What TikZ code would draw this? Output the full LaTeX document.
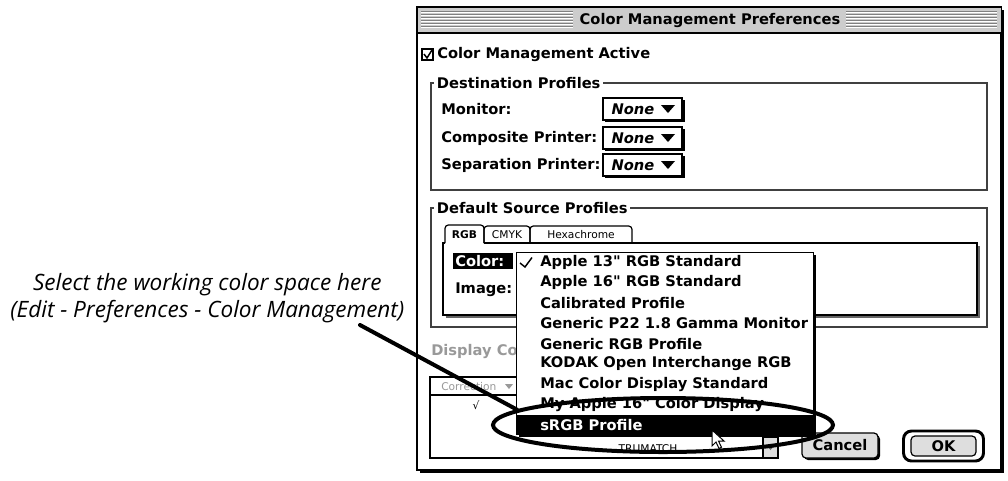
\documentclass[tikz,border=0pt]{standalone}
\usepackage{fontspec}
\setmainfont{DejaVu Sans}
\newfontfamily\uifont{DejaVu Sans}
\newfontfamily\notefont{Open Sans}
\newcommand\chic{\uifont\fontsize{11pt}{13pt}\selectfont\bfseries}
\newcommand\geneva{\uifont\fontsize{8pt}{9pt}\selectfont}
\usetikzlibrary{shapes.geometric}
\definecolor{titlegray}{gray}{0.80}
\definecolor{btngray}{gray}{0.87}
\definecolor{dimtext}{gray}{0.60}
\begin{document}
\begin{tikzpicture}[x=0.75pt,y=-0.75pt,
  ui/.style={font=\chic, inner sep=0pt},
  uiw/.style={ui, anchor=west},
  tiny/.style={font=\geneva, inner sep=0pt},
  edge/.style={draw=black, line width=0.9pt},
  grp/.style={draw=black!75, line width=0.9pt},
  marker/.style={draw=black, line width=3pt},
  btn/.style={ui, draw=black, line width=0.9pt, fill=btngray, rounded corners=3pt}]
\useasboundingbox (0,0) rectangle (1008,480);
\fill[white] (0,0) rectangle (1008,480);

% ---------- dialog window ----------
\fill[black] (420,10) rectangle (1004,473);
\filldraw[fill=white, edge] (417,7) rectangle (1001,470);
\fill[titlegray] (417.5,7.5) rectangle (1000.5,33);
\draw[edge] (417,33) -- (1001,33);
\foreach \s in {0,...,5} {
  \draw[black!50, line width=0.75pt] (421,{11.5+3*\s}) -- (573,{11.5+3*\s})
                                     (846,{11.5+3*\s}) -- (997,{11.5+3*\s});
  \draw[white, line width=0.75pt] (421,{12.5+3*\s}) -- (573,{12.5+3*\s})
                                  (846,{12.5+3*\s}) -- (997,{12.5+3*\s});
}
\node[ui] (title) at (710,20.5) {Color Management Preferences};

% master switch
\draw[edge, fill=white] (422,49) rectangle (433,60);
\draw[line width=1.1pt] (424,54) -- (427,58) -- (432,50);
\node[uiw] (cmact) at (437,55) {Color Management Active};

% ---------- destination profiles ----------
\draw[grp] (431,83) rectangle (987,190);
\node[uiw, fill=white, inner xsep=2pt] (destgrp) at (434,83) {Destination Profiles};
\node[uiw] (lmon)  at (441,109) {Monitor:};
\node[uiw] (lcomp) at (441,138) {Composite Printer:};
\node[uiw] (lsep)  at (441,165) {Separation Printer:};
\foreach \n/\yc in {mon/109, comp/138, sep/165} {
  \fill[black] (605,{\yc-9}) rectangle (684.5,{\yc+12.5});
  \filldraw[fill=white, edge] (603,{\yc-11}) rectangle (682,{\yc+11});
  \node[ui, font=\chic\itshape] (pop\n) at (633,\yc) {None};
  \fill[black] (661,{\yc-4}) -- (675,{\yc-4}) -- (668,{\yc+4}) -- cycle;
}

% ---------- default source profiles ----------
\draw[grp] (431,208) rectangle (987,327);
\node[uiw, fill=white, inner xsep=2pt] (srcgrp) at (434,208) {Default Source Profiles};
% tab panel
\draw[black!60, line width=0.9pt] (445.5,317) -- (979,317) -- (979,245.5);
\draw[edge] (445,243) -- (443,243) -- (443,315) -- (977,315) -- (977,243) -- (484,243);
\draw[edge, rounded corners=2.5pt] (445,243) -- (445,225) -- (484,225) -- (484,243);
\draw[edge, rounded corners=2.5pt] (484,243) -- (484,226) -- (530,226) -- (530,243);
\draw[edge, rounded corners=2.5pt] (530,243) -- (530,226) -- (632,226) -- (632,243);
\node[tiny, font=\geneva\bfseries] (tabrgb) at (464.5,234.5) {RGB};
\node[tiny] (tabcmyk) at (507,234.5) {CMYK};
\node[tiny] (tabhex) at (581,234.5) {Hexachrome};
\fill[black] (453,253) rectangle (513,269);
\node[uiw, text=white] (lcolor) at (455,261) {Color:};
\node[uiw] (limage) at (455,290) {Image:};

% ---------- display section ----------
\node[uiw, text=dimtext] (dispco) at (431,352) {Display Co};
\draw[edge, fill=white] (430,377) rectangle (778,458);
\draw[edge] (430,395) -- (778,395);
\node[tiny, anchor=west, text=dimtext] (corr) at (441,387) {Correction};
\fill[dimtext] (505,384) -- (513,384) -- (509,389) -- cycle;
\node[tiny] (tick) at (476,405) {√};
\node[tiny] (trum) at (648,449) {TRUMATCH};
\filldraw[fill=btngray, edge] (763,437) rectangle (778,458);
\fill[black!60] (766,445) -- (775,445) -- (770.5,450) -- cycle;

% ---------- buttons ----------
\fill[black, rounded corners=3pt] (804,435) rectangle (880,460);
\node[btn, minimum width=57pt, minimum height=18.75pt] (cancel) at (840,445.5) {Cancel};
\node[draw=black, line width=2.2pt, rounded corners=6pt, minimum width=60pt,
      minimum height=22.5pt, inner sep=0pt] (okring) at (943.5,446) {};
\node[btn, minimum width=48.75pt, minimum height=15pt] (ok) at (943.5,446) {OK};

% ---------- pop-up profile menu ----------
\fill[black] (518.5,254.5) rectangle (815.5,436.5);
\node[draw=black, line width=0.9pt, fill=white, anchor=north west, inner sep=0pt,
      minimum width=222.75pt, minimum height=136.5pt] (menu) at (516,252) {};
\draw[line width=1.1pt] (520,263) -- (525,267) -- (532,257.5);
\node[uiw] (m0) at (540,262.0) {Apple 13" RGB Standard};
\node[uiw] (m1) at (540,282.4) {Apple 16" RGB Standard};
\node[uiw] (m2) at (540,302.8) {Calibrated Profile};
\node[uiw] (m3) at (540,323.2) {Generic P22 1.8 Gamma Monitor};
\node[uiw] (m4) at (540,343.6) {Generic RGB Profile};
\node[uiw] (m5) at (540,364.0) {KODAK Open Interchange RGB};
\node[uiw] (m6) at (540,384.4) {Mac Color Display Standard};
\node[uiw] (m7) at (540,404.8) {My Apple 16" Color Display};
\fill[black] (516.5,415) rectangle (813,434);
\node[uiw, text=white] (m8) at (540,425.2) {sRGB Profile};

% mouse pointer
\filldraw[fill=white, draw=black, line width=0.75pt, line join=miter]
  (712,430) -- ++(0,16) -- ++(4,-4) -- ++(3,6.5) -- ++(2.5,-1.2) -- ++(-3,-6.3) -- ++(5.5,0) -- cycle;

% ---------- call-out ----------
\node[marker, ellipse, inner sep=0pt, minimum width=255pt, minimum height=40.5pt] (ring) at (663,425) {};
\node[font={\notefont\fontsize{16.9pt}{20pt}\selectfont\itshape}, align=center,
      anchor=north west, inner sep=0pt] (note) at (10,273)
  {Select the working color space here\\(Edit - Preferences - Color Management)};
\coordinate (tail) at (360,325);
\draw[marker, line cap=round] (tail) -- (ring.174);
\end{tikzpicture}
\end{document}
